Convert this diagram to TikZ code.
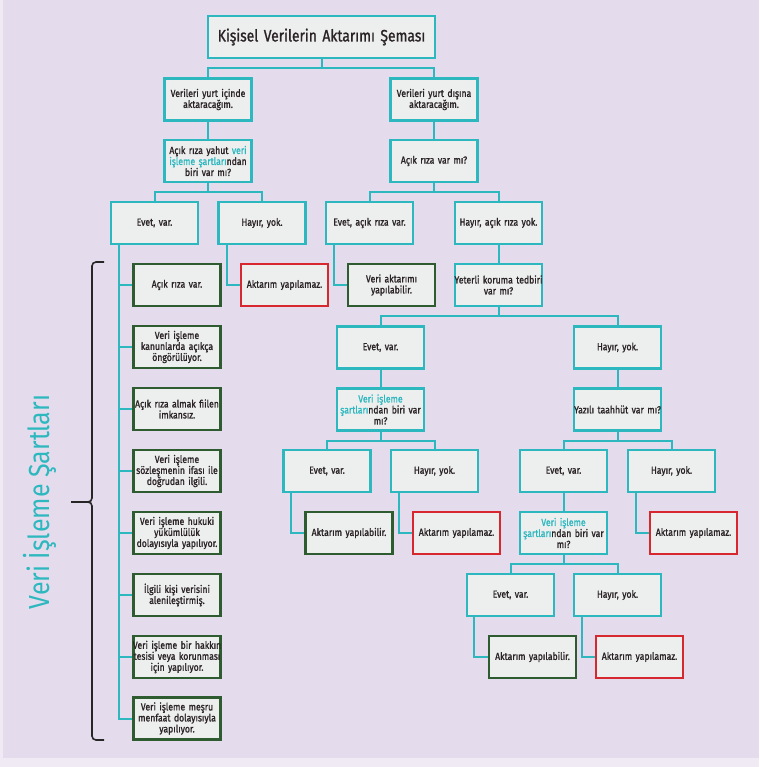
\documentclass[tikz,border=0pt]{standalone}
\usepackage{fontspec}
\setmainfont{Fira Sans}[FakeStretch=0.84, FakeBold=1.2]
\newfontfamily\labfont{Fira Sans}[FakeStretch=0.86]
\definecolor{bgout}{HTML}{EFEAF3}
\definecolor{bg}{HTML}{E4DCEC}
\definecolor{tealc}{HTML}{2DB8BF}
\definecolor{boxf}{HTML}{EDEEEE}
\definecolor{greenc}{HTML}{2F5B30}
\definecolor{redc}{HTML}{D7282F}
\definecolor{txt}{HTML}{2A2326}
\newcommand{\tl}[1]{\textcolor{tealc}{#1}}
\newcommand{\wide}[1]{\makebox[87pt]{#1}}
\begin{document}
\begin{tikzpicture}[x=1pt,y=-1pt,
  base/.style={fill=boxf, line width=2.4pt, minimum width=87pt, minimum height=42pt, inner sep=0pt, align=center, text width=87pt, text=txt, font=\fontsize{10.3}{11}\selectfont},
  tbox/.style={base, draw=tealc},
  gbox/.style={base, draw=greenc},
  rbox/.style={base, draw=redc},
  conn/.style={draw=tealc, line width=2pt},
  brace/.style={draw=black!85, line width=1.6pt, rounded corners=4pt},
]
\useasboundingbox (0,0) rectangle (759,767);
\fill[bgout] (0,0) rectangle (759,767);
\fill[bg] (3,0) rectangle (759,758);

% title
\node[tbox, minimum width=227pt, text width=227pt, minimum height=42pt, font=\fontsize{16.5}{20}\selectfont] (title) at (321.5,37) {Kişisel Verilerin Aktarımı Şeması};

\node[tbox] (yi) at (208,99.5) {Verileri yurt içinde\\aktaracağım.};
\node[tbox] (yd) at (434,99.5) {Verileri yurt dışına\\aktaracağım.};
\node[tbox] (q1) at (208,161) {Açık rıza yahut \tl{veri}\\\tl{işleme şartları}ndan\\biri var mı?};
\node[tbox] (q2) at (434,161) {Açık rıza var mı?};

\node[tbox] (e1) at (154.5,223) {Evet, var.};
\node[tbox] (h1) at (262,223) {Hayır, yok.};
\node[tbox] (e2) at (369.5,223) {Evet, açık rıza var.};
\node[tbox] (h2) at (498.5,223) {Hayır, açık rıza yok.};

\node[gbox] (c1) at (177,285) {Açık rıza var.};
\node[gbox] (c2) at (177,347) {Veri işleme\\kanunlarda açıkça\\öngörülüyor.};
\node[gbox] (c3) at (177,409) {\wide{Açık rıza almak fiilen}\\imkansız.};
\node[gbox] (c4) at (177,471) {Veri işleme\\sözleşmenin ifası ile\\doğrudan ilgili.};
\node[gbox] (c5) at (177,533) {Veri işleme hukuki\\yükümlülük\\\wide{dolayısıyla yapılıyor.}};
\node[gbox] (c6) at (177,595) {İlgili kişi verisini\\alenileştirmiş.};
\node[gbox] (c7) at (177,657) {\wide{Veri işleme bir hakkın}\\\wide{tesisi veya korunması}\\için yapılıyor.};
\node[gbox] (c8) at (177,718.5) {Veri işleme meşru\\menfaat dolayısıyla\\yapılıyor.};

\node[rbox] (r1) at (284.5,285) {Aktarım yapılamaz.};
\node[gbox] (g1) at (391.5,285) {Veri aktarımı\\yapılabilir.};
\node[tbox] (yk) at (498.5,285) {\wide{Yeterli koruma tedbiri}\\var mı?};

\node[tbox] (e3) at (380.5,347.5) {Evet, var.};
\node[tbox] (h3) at (617.5,347.5) {Hayır, yok.};
\node[tbox] (q3) at (380.5,409.5) {\tl{Veri işleme}\\\tl{şartları}ndan biri var\\mı?};
\node[tbox] (q4) at (617.5,409.5) {\wide{Yazılı taahhüt var mı?}};

\node[tbox] (e4) at (327,471) {Evet, var.};
\node[tbox] (h4) at (434.5,471) {Hayır, yok.};
\node[tbox] (e5) at (563.5,471) {Evet, var.};
\node[tbox] (h5) at (671.5,471) {Hayır, yok.};

\node[gbox] (g2) at (349,533) {Aktarım yapılabilir.};
\node[rbox] (r2) at (456.5,533) {Aktarım yapılamaz.};
\node[tbox] (q5) at (563.5,533) {\tl{Veri işleme}\\\tl{şartları}ndan biri var\\mı?};
\node[rbox] (r3) at (693.5,533) {Aktarım yapılamaz.};

\node[tbox] (e6) at (510.5,595) {Evet, var.};
\node[tbox] (h6) at (617.5,595) {Hayır, yok.};
\node[gbox] (g3) at (532.5,657) {Aktarım yapılabilir.};
\node[rbox] (r4) at (639.5,657) {Aktarım yapılamaz.};

% vertical label
\node[rotate=90, text=tealc, font=\labfont\fontsize{29}{32}\selectfont, inner sep=0pt] (lab) at (40,502) {Veri İşleme Şartları};

% brace
\coordinate (bt) at (104,262);
\coordinate (bm) at (71,502);
\coordinate (bb) at (104,740);
\draw[brace] (bt) -- (92,262) -- (92,502) -- (bm);
\draw[brace] (bb) -- (92,740) -- (92,502) -- (bm);

% connectors
\draw[conn] (title.south) -- ++(0,9) coordinate (f0);
\draw[conn] (yi.north) |- (f0) -| (yd.north);
\draw[conn] (yi.south) -- (q1.north);
\draw[conn] (yd.south) -- (q2.north);

\draw[conn] (q1.south) -- ++(0,9) coordinate (f1);
\draw[conn] (e1.north) |- (f1) -| (h1.north);
\draw[conn] (q2.south) -- ++(0,9) coordinate (f2);
\draw[conn] (e2.north) |- (f2) -| (h2.north);

\coordinate (t1) at ([xshift=9pt]e1.south west);
\draw[conn] (t1) |- (c8.west);
\foreach \c in {c1,c2,c3,c4,c5,c6,c7}{
  \draw[conn] (t1 |- \c.west) -- (\c.west);
}
\coordinate (t2) at ([xshift=10pt]h1.south west);
\draw[conn] (t2) |- (r1.west);
\coordinate (t3) at ([xshift=9pt]e2.south west);
\draw[conn] (t3) |- (g1.west);
\draw[conn] (h2.south) -- (yk.north);

\draw[conn] (yk.south) -- ++(0,9) coordinate (f3);
\draw[conn] (e3.north) |- (f3) -| (h3.north);
\draw[conn] (e3.south) -- (q3.north);
\draw[conn] (h3.south) -- (q4.north);

\draw[conn] (q3.south) -- ++(0,9) coordinate (f4);
\draw[conn] (e4.north) |- (f4) -| (h4.north);
\draw[conn] (q4.south) -- ++(0,9) coordinate (f5);
\draw[conn] (e5.north) |- (f5) -| (h5.north);

\coordinate (t4) at ([xshift=9pt]e4.south west);
\draw[conn] (t4) |- (g2.west);
\coordinate (t5) at ([xshift=9pt]h4.south west);
\draw[conn] (t5) |- (r2.west);
\draw[conn] (e5.south) -- (q5.north);
\coordinate (t6) at ([xshift=9pt]h5.south west);
\draw[conn] (t6) |- (r3.west);

\draw[conn] (q5.south) -- ++(0,9) coordinate (f6);
\draw[conn] (e6.north) |- (f6) -| (h6.north);
\coordinate (t7) at ([xshift=8pt]e6.south west);
\draw[conn] (t7) |- (g3.west);
\coordinate (t8) at ([xshift=9pt]h6.south west);
\draw[conn] (t8) |- (r4.west);
\end{tikzpicture}
\end{document}
